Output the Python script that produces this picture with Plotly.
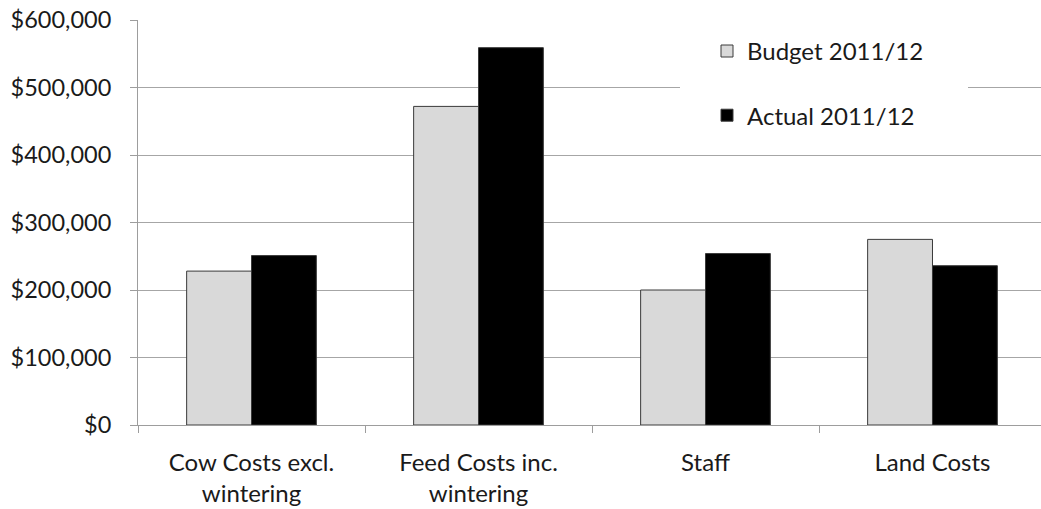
import plotly.graph_objects as go

categories = ["Cow Costs excl.<br>wintering", "Feed Costs inc.<br>wintering", "Staff", "Land Costs"]
budget = [228000, 472000, 200000, 275000]
actual = [251000, 559000, 254000, 236000]
series_names = ["Budget 2011/12", "Actual 2011/12"]

FONT = "Lato"
FS = 24
fig = go.Figure()
fig.add_trace(go.Bar(x=categories, y=budget, name=series_names[0],
                     marker=dict(color="#d9d9d9", line=dict(color="#3a3a3a", width=1)),
                     legendgroup="a"))
fig.add_trace(go.Bar(x=categories, y=actual, name=series_names[1],
                     marker=dict(color="#000000", line=dict(color="#3a3a3a", width=1)),
                     legendgroup="b"))

fig.update_layout(
    width=1041, height=509,
    margin=dict(l=138, r=0, t=20, b=84),
    paper_bgcolor="white", plot_bgcolor="white",
    barmode="group", bargap=0.4286, bargroupgap=0,
    font=dict(family=FONT, size=FS, color="#1a1a1a"),
    showlegend=True,
    legend=dict(x=(707-138)/903, xanchor="left", y=0.978, yanchor="top",
                bgcolor="rgba(0,0,0,0)", borderwidth=0,
                traceorder="grouped", tracegroupgap=30,
                font=dict(family=FONT, size=FS, color="#1a1a1a")),
    shapes=[dict(type="rect", xref="paper", yref="paper", layer="above",
                 x0=(680-138)/903, x1=(968-138)/903, y0=0.78, y1=0.9,
                 fillcolor="white", line=dict(width=0))],
)
fig.update_xaxes(range=[-0.5, 3.478], showline=True, linecolor="#9d9d9d", linewidth=1,
                 ticks="outside", tickson="boundaries", ticklen=7, tickcolor="#9d9d9d",
                 showgrid=False, ticklabelstandoff=16, tickfont=dict(family=FONT, size=FS))
fig.update_yaxes(range=[0, 600000], dtick=100000, tickprefix="$", tickformat=",.0f",
                 showline=True, linecolor="#9d9d9d", linewidth=1,
                 ticks="outside", ticklen=7, tickcolor="#9d9d9d",
                 showgrid=True, gridcolor="#a6a6a6", gridwidth=1, zeroline=False,
                 ticklabelstandoff=14, tickfont=dict(family=FONT, size=23.5))

fig.write_html("out.html")
